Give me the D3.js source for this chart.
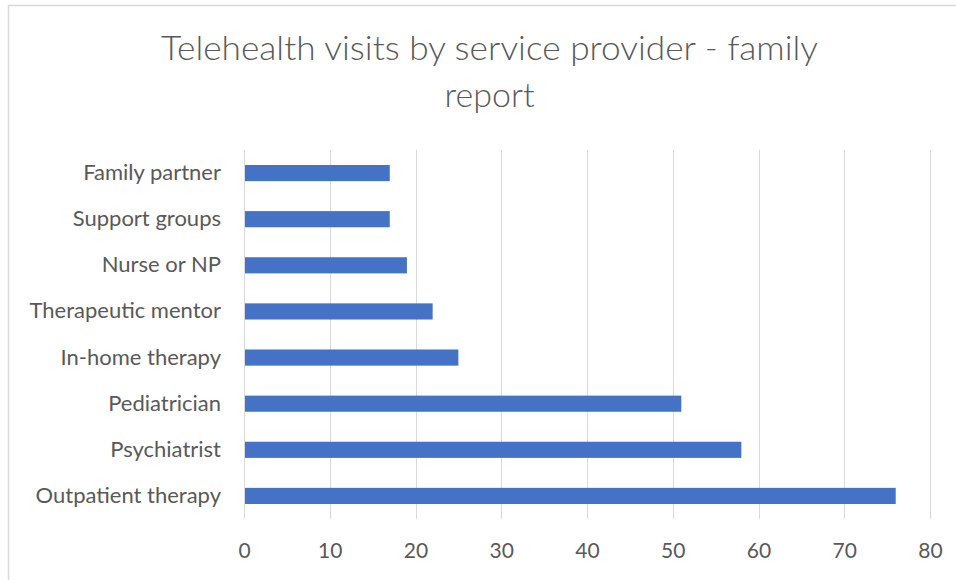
<!DOCTYPE html>
<html>
<head>
<meta charset="utf-8">
<script src="https://cdn.jsdelivr.net/npm/d3@7"></script>
<style>
  html, body { margin: 0; padding: 0; background: #fff; }
  svg { display: block; }
  text { font-family: Lato, "Open Sans", sans-serif; fill: #595959; }
</style>
</head>
<body>
<svg id="chart" width="956" height="580"></svg>
<script>
// Telehealth visits per service provider, top to bottom
const categories = [
  "Family partner",
  "Support groups",
  "Nurse or NP",
  "Therapeutic mentor",
  "In-home therapy",
  "Pediatrician",
  "Psychiatrist",
  "Outpatient therapy"
];
const visits = [17, 17, 19, 22, 25, 51, 58, 76];
const xTicks = [0, 10, 20, 30, 40, 50, 60, 70, 80];
const titleLines = ["Telehealth visits by service provider - family", "report"];

const svg = d3.select("#chart");

// chart frame (left and top edges visible)
svg.append("path")
  .attr("d", "M8.5,580 V5.5 H956")
  .attr("fill", "none")
  .attr("stroke", "#d9d9d9")
  .attr("stroke-width", 1.5);

const x = d3.scaleLinear().domain([0, 80]).range([244, 930]);
const y = d3.scaleBand().domain(categories).range([150, 519])
  .paddingInner(0.65).paddingOuter(0.325);

// vertical gridlines
svg.append("g").selectAll("line")
  .data(xTicks)
  .join("line")
  .attr("x1", d => Math.round(x(d)) + 0.5)
  .attr("x2", d => Math.round(x(d)) + 0.5)
  .attr("y1", 150)
  .attr("y2", 519)
  .attr("stroke", "#d9d9d9")
  .attr("stroke-width", 1);

// bars
svg.append("g").selectAll("rect")
  .data(categories.map((c, i) => ({ c, v: visits[i] })))
  .join("rect")
  .attr("x", x(0) + 1)
  .attr("y", d => y(d.c))
  .attr("width", d => x(d.v) - x(0) - 1)
  .attr("height", y.bandwidth())
  .attr("fill", "#4472c4");

// x axis tick labels
const xAxis = d3.axisBottom(x).tickValues(xTicks).tickSize(0).tickPadding(0);
const gx = svg.append("g").attr("transform", "translate(0,551)").call(xAxis);
gx.select(".domain").remove();
gx.selectAll("text")
  .attr("dy", "0.35em")
  .style("font-size", "21px")
  .style("font-family", "Lato, 'Open Sans', sans-serif")
  .attr("fill", "#595959");

// category labels
const yAxis = d3.axisLeft(y).tickSize(0).tickPadding(0);
const gy = svg.append("g").attr("transform", "translate(221,0)").call(yAxis);
gy.select(".domain").remove();
gy.selectAll("text")
  .style("font-size", "22px")
  .style("font-family", "Lato, 'Open Sans', sans-serif")
  .attr("fill", "#595959");

// title
svg.append("text")
  .attr("x", 489.5).attr("y", 60)
  .attr("text-anchor", "middle")
  .attr("textLength", 657)
  .attr("lengthAdjust", "spacingAndGlyphs")
  .style("font-size", "34px")
  .style("font-weight", 300)
  .text(titleLines[0]);
svg.append("text")
  .attr("x", 489.5).attr("y", 107)
  .attr("text-anchor", "middle")
  .style("font-size", "34px")
  .style("font-weight", 300)
  .text(titleLines[1]);
</script>
</body>
</html>
